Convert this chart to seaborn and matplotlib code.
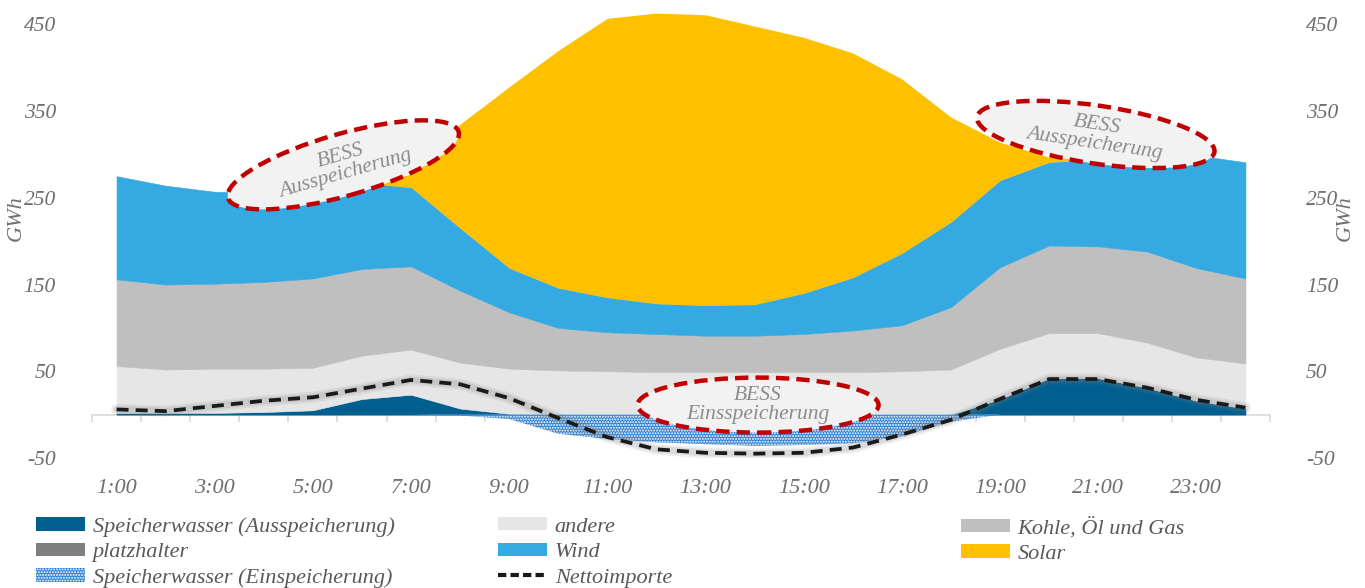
import numpy as np
import pandas as pd
import matplotlib
matplotlib.use("Agg")
import matplotlib.pyplot as plt
import seaborn as sns
from matplotlib.patches import Ellipse, Patch
from matplotlib.lines import Line2D
from matplotlib.transforms import IdentityTransform
from matplotlib.ticker import FixedLocator

# ---------------- data ----------------
hours = list(range(1, 25))
tick_hours = list(range(1, 24, 2))
tick_labels = [f"{h}:00" for h in tick_hours]
y_ticks = [-50, 50, 150, 250, 350, 450]

speicher_aus = [2, 2, 2, 3, 5, 18, 23, 7, 1, 0, 0, 0, 0, 0, 0, 0, 0, 0, 18, 42, 42, 31, 16, 7]
andere = [54, 50, 51, 50, 49, 50, 52, 53, 52, 51, 50, 49, 49, 49, 49, 49, 50, 52, 58, 52, 52, 52, 50, 52]
kohle = [100, 98, 98, 100, 103, 100, 96, 83, 65, 49, 45, 44, 42, 42, 44, 48, 53, 72, 94, 101, 100, 105, 103, 98]
platzhalter = [0] * 24
wind = [119, 114, 106, 103, 103, 99, 91, 72, 51, 46, 40, 35, 35, 36, 47, 61, 83, 98, 100, 96, 100, 105, 130, 134]
solar = [0, 0, 0, 0, 0, 0, 15, 120, 209, 274, 322, 335, 335, 321, 295, 259, 201, 121, 44, 6, 0, 0, 0, 0]
speicher_ein = [0, 0, 0, 0, 0, 0, 0, -1, -5, -22, -28, -32, -34, -36, -35, -33, -25, -8, 0, 0, 0, 0, 0, 0]
netto = [6, 4, 10, 16, 20, 30, 40, 35, 19, -4, -26, -40, -44, -45, -44, -38, -23, -6, 18, 41, 41, 31, 17, 8]

names = ["Speicherwasser (Ausspeicherung)", "andere", "Kohle, Öl und Gas",
         "platzhalter", "Wind", "Solar", "Speicherwasser (Einspeicherung)", "Nettoimporte"]
colors = ["#005f8f", "#e6e6e6", "#bfbfbf", "#7f7f7f", "#35a9e1", "#ffc000", "#2f80d1", "#1a1a1a"]

df = pd.DataFrame({"hour": hours, "netto": netto})

# ---------------- style ----------------
sns.set_theme(style="white")
plt.rcParams["font.family"] = ["Liberation Serif", "DejaVu Serif"]
plt.rcParams["hatch.linewidth"] = 1.0
TXT = "#6f6f6f"

fig = plt.figure(figsize=(13.65, 5.88), dpi=100)
ax = fig.add_axes([92 / 1365, 1 - 458 / 588, (1270 - 92) / 1365, (458 - 7) / 588])

stack_vals = [speicher_aus, andere, kohle, platzhalter, wind, solar]
polys = ax.stackplot(hours, *stack_vals, colors=colors[:6], linewidth=0.4, zorder=2)
for coll, c in zip(polys, colors[:6]):
    coll.set_edgecolor(c)
polys[3].set_linewidth(0)
polys[5].set_linewidth(0)

ax.fill_between(hours, 0, speicher_ein, facecolor=colors[6], edgecolor="white",
                hatch="......", linewidth=0, zorder=2)

# shadow + dashed line
sns.lineplot(data=df, x="hour", y="netto", ax=ax, color="#808080", lw=8, alpha=0.12, zorder=3)
sns.lineplot(data=df, x="hour", y="netto", ax=ax, color="#808080", lw=5, alpha=0.18, zorder=3)
sns.lineplot(data=df, x="hour", y="netto", ax=ax, color=colors[7], lw=2.7, zorder=4,
             linestyle=(0, (3.2, 1.9)))

ax.set_xlim(0.5, 24.5)
ax.set_ylim(-50, 470)

# axes styling
for s in ["top", "left", "right"]:
    ax.spines[s].set_visible(False)
ax.spines["bottom"].set_position(("data", 0))
ax.spines["bottom"].set_color("#d9d9d9")
ax.spines["bottom"].set_linewidth(1.2)
ax.spines["bottom"].set_zorder(1)

ax.xaxis.set_major_locator(FixedLocator(tick_hours))
ax.set_xticklabels(tick_labels)
ax.xaxis.set_minor_locator(FixedLocator([h + 0.5 for h in range(0, 25)]))
ax.tick_params(axis="x", which="major", length=0, pad=46, labelsize=16, labelcolor=TXT)
ax.tick_params(axis="x", which="minor", length=5, width=1.2, color="#d9d9d9", direction="out", bottom=True)
for lab in ax.get_xticklabels():
    lab.set_fontstyle("italic")

ax.set_yticks(y_ticks)
ax.set_yticklabels([str(v) for v in y_ticks])
ax.tick_params(axis="y", which="both", left=False, right=False, labelleft=True, labelright=True,
               labelsize=15.5, labelcolor=TXT, pad=20)
for lab in ax.get_yticklabels():
    lab.set_fontstyle("italic")
ax.set_xlabel("")
ax.set_ylabel("")
ax.grid(False)

fig.text(16 / 1365, 1 - 218 / 588, "GWh", rotation=90, ha="center", va="center",
         fontsize=16, color=TXT, style="italic")
fig.text(1345 / 1365, 1 - 218 / 588, "GWh", rotation=90, ha="center", va="center",
         fontsize=16, color=TXT, style="italic")

# ---------------- BESS annotations ----------------
annots = [
    ((5.62, 288), 240, 62, 16, "BESS\nAusspeicherung"),
    ((20.95, 323), 240, 58, -8.4, "BESS\nAusspeicherung"),
    ((14.07, 11), 241, 55, 0, "BESS\nEinsspeicherung"),
]
fig.canvas.draw()
for (xy, w, h, ang, txt) in annots:
    px, py = ax.transData.transform(xy)
    e = Ellipse((px, py), w, h, angle=ang, transform=IdentityTransform(),
                facecolor="#f2f2f2", edgecolor="#c00000", lw=3.2,
                linestyle=(0, (3, 1.6)), zorder=6)
    fig.add_artist(e)
    fig.text(px / 1365, py / 588, txt, rotation=ang, rotation_mode="anchor",
             ha="center", va="center", fontsize=15.5, color="#8c8c8c",
             style="italic", linespacing=1.0, zorder=7)

# ---------------- legend ----------------
def handle(i):
    if i == 7:
        return Line2D([0], [0], color=colors[7], lw=3, linestyle=(0, (2, 1)))
    if i == 6:
        return Patch(facecolor=colors[6], edgecolor="white", hatch="......", lw=0)
    return Patch(facecolor=colors[i], edgecolor=colors[i], lw=0)

columns = [([0, 3, 6], 36), ([1, 4, 7], 498), ([2, 5], 961)]
for idxs, x0 in columns:
    fig.legend([handle(i) for i in idxs], [names[i] for i in idxs],
               loc="upper left", bbox_to_anchor=(x0 / 1365, 1 - 517 / 588),
               frameon=False, handlelength=2.2, handleheight=0.55,
               handletextpad=0.35, labelspacing=0.27, borderpad=0, borderaxespad=0,
               prop={"style": "italic", "size": 16}, labelcolor="#595959")

fig.savefig("out.png", dpi=100)
